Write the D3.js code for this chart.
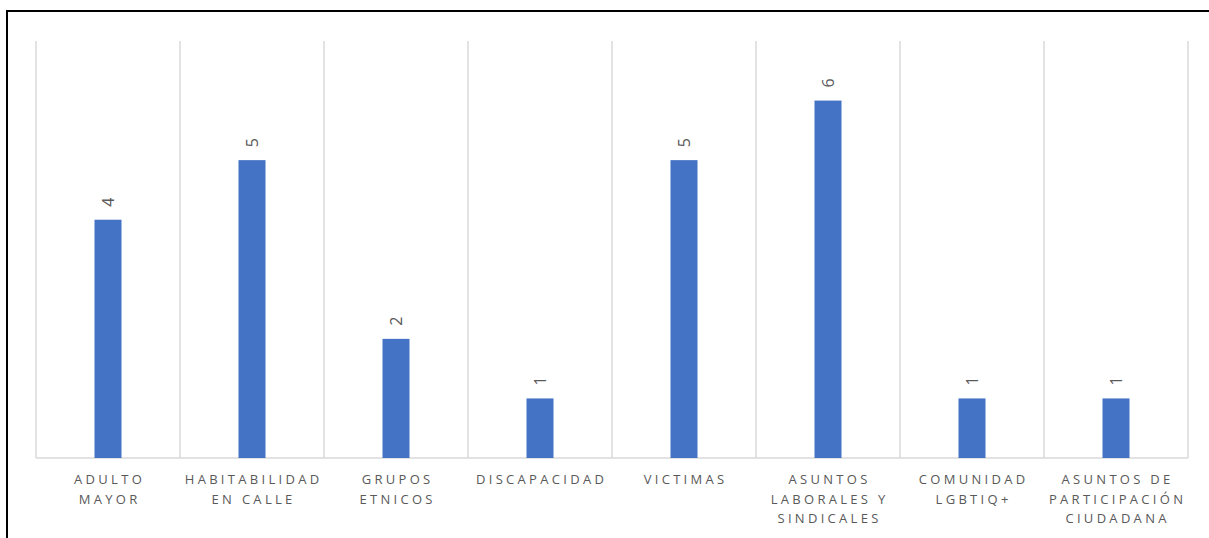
<!DOCTYPE html>
<html><head><meta charset="utf-8">
<script src="https://cdn.jsdelivr.net/npm/d3@7"></script>
<style>body{margin:0;background:#fff}svg{display:block}</style>
</head><body>
<svg id="c" width="1209" height="538"></svg>
<script>
const categories = [["ADULTO","MAYOR"],["HABITABILIDAD","EN CALLE"],["GRUPOS","ETNICOS"],["DISCAPACIDAD"],["VICTIMAS"],["ASUNTOS","LABORALES Y","SINDICALES"],["COMUNIDAD","LGBTIQ+"],["ASUNTOS DE","PARTICIPACIÓN","CIUDADANA"]];
const values = [4,5,2,1,5,6,1,1];

const svg = d3.select("#c");
const W=1209,H=538;
const m={left:36,right:1188,top:41,bottom:458};
svg.append("rect").attr("x",7).attr("y",11).attr("width",W+10).attr("height",H+10)
  .attr("fill","#fff").attr("stroke","#000").attr("stroke-width",2);

const idx = d3.range(values.length);
const x = d3.scaleBand().domain(idx).range([m.left,m.right]).padding(0);
const y = d3.scaleLinear().domain([0,7]).range([m.bottom,m.top]);
const bw = 27;

const bounds = idx.map(i=>x(i)).concat([m.right]);
svg.append("g").selectAll("line").data(bounds).join("line")
  .attr("x1",d=>d).attr("x2",d=>d).attr("y1",m.top).attr("y2",m.bottom)
  .attr("stroke","#d9d9d9").attr("stroke-width",1.5);
svg.append("line").attr("x1",m.left).attr("x2",m.right).attr("y1",m.bottom).attr("y2",m.bottom)
  .attr("stroke","#d9d9d9").attr("stroke-width",1.5);

svg.append("g").selectAll("rect").data(values).join("rect")
  .attr("x",(d,i)=>x(i)+x.bandwidth()/2-bw/2).attr("width",bw)
  .attr("y",d=>y(d)).attr("height",d=>y(0)-y(d)).attr("fill","#4472c4");

svg.append("g").selectAll("text").data(values).join("text")
  .attr("transform",(d,i)=>`translate(${x(i)+x.bandwidth()/2+6},${y(d)-13}) rotate(-90)`)
  .attr("font-family","Open Sans, sans-serif").attr("font-size",16).attr("fill","#595959")
  .attr("text-anchor","start").text(d=>d);

const lab = svg.append("g").selectAll("text").data(categories).join("text")
  .attr("x",(d,i)=>x(i)+x.bandwidth()/2).attr("y",484)
  .attr("font-family","Open Sans, sans-serif").attr("font-size",13).attr("fill","#595959")
  .attr("letter-spacing","3.3px").attr("text-anchor","middle");
lab.selectAll("tspan").data(d=>d).join("tspan")
  .attr("x",function(){return d3.select(this.parentNode).attr("x");})
  .attr("dx",1.6)
  .attr("dy",(d,j)=>j===0?0:19.5).text(d=>d);
</script>
</body></html>
